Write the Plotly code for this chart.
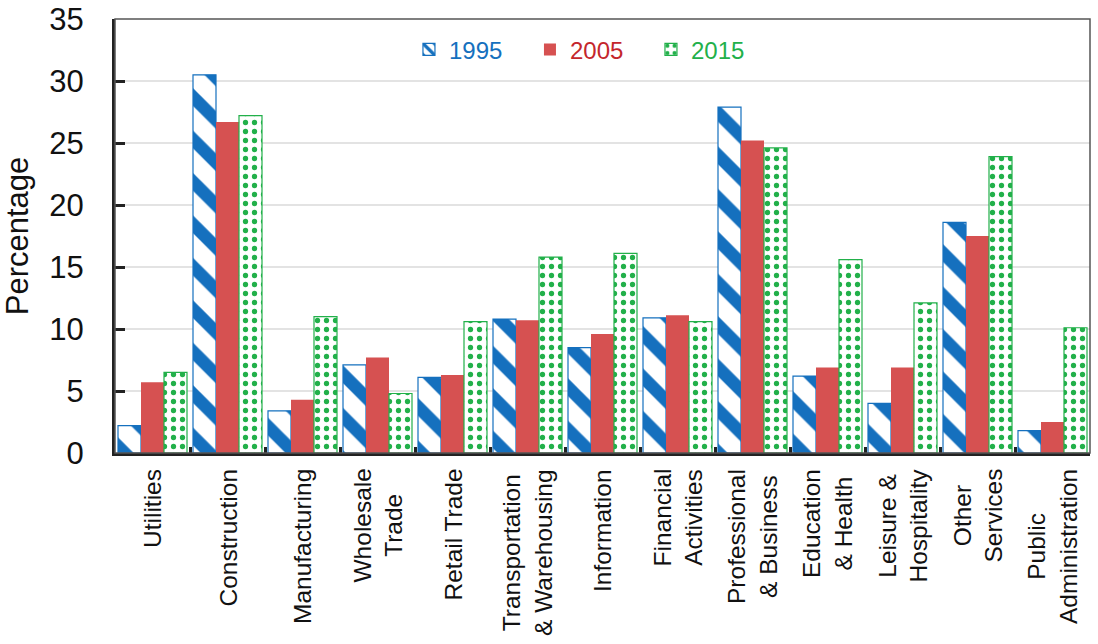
import plotly.graph_objects as go

categories = ["Utilities", "Construction", "Manufacturing", "Wholesale<br>Trade", "Retail Trade",
              "Transportation<br>& Warehousing", "Information", "Financial<br>Activities",
              "Professional<br>& Business", "Education<br>& Health", "Leisure &<br>Hospitality",
              "Other<br>Services", "Public<br>Administration"]
v1995 = [2.2, 30.5, 3.4, 7.1, 6.1, 10.8, 8.5, 10.9, 27.9, 6.2, 4.0, 18.6, 1.8]
v2005 = [5.7, 26.7, 4.3, 7.7, 6.3, 10.7, 9.6, 11.1, 25.2, 6.9, 6.9, 17.5, 2.5]
v2015 = [6.5, 27.2, 11.0, 4.8, 10.6, 15.8, 16.1, 10.6, 24.6, 15.6, 12.1, 23.9, 10.1]
years = ["1995", "2005", "2015"]

BLUE = "#1570be"
RED = "#d65151"
GREEN = "#22b04a"
FONT = "Liberation Sans, Arial, sans-serif"

fig = go.Figure()
fig.add_trace(go.Bar(
    x=categories, y=v1995,
    name=f'<span style="color:{BLUE}">{years[0]}</span>',
    marker=dict(color="white", line=dict(color=BLUE, width=1.2),
                pattern=dict(shape="\\", fgcolor=BLUE, bgcolor="white", size=30,
                             solidity=0.42, fgopacity=1)),
))
fig.add_trace(go.Bar(
    x=categories, y=v2005,
    name=f'<span style="color:#c4262c">{years[1]}</span>',
    marker=dict(color=RED, line=dict(color=RED, width=0)),
))
fig.add_trace(go.Bar(
    x=categories, y=v2015,
    name=f'<span style="color:{GREEN}">{years[2]}</span>',
    marker=dict(color="white", line=dict(color=GREEN, width=1.2),
                pattern=dict(shape=".", fgcolor=GREEN, bgcolor="white", size=9,
                             solidity=0.27, fgopacity=1)),
))

# category labels, centred multi-line, rotated
for c in categories:
    fig.add_annotation(x=c, xref="x", y=0, yref="paper", yanchor="top", yshift=-14,
                       xanchor="center", text=c, textangle=-90, align="center",
                       showarrow=False, font=dict(size=24.5, color="#111", family=FONT))

fig.update_layout(
    width=1098, height=644,
    margin=dict(l=115, r=8, t=19, b=191),
    barmode="group", bargap=0.08, bargroupgap=0,
    plot_bgcolor="white", paper_bgcolor="white",
    font=dict(family=FONT, color="#111"),
    showlegend=True,
    legend=dict(orientation="h", x=0.3015, xanchor="left", y=0.929, yanchor="middle",
                font=dict(size=24), bgcolor="rgba(0,0,0,0)", itemwidth=30,
                entrywidth=76, entrywidthmode="pixels"),
    xaxis=dict(
        showticklabels=False, automargin=False,
        showline=True, linecolor="#222", linewidth=3, mirror=False,
        ticks="inside", tickson="boundaries", ticklen=6, tickwidth=3, tickcolor="#222",
        showgrid=False,
    ),
    yaxis=dict(
        range=[0, 35], dtick=5, tickfont=dict(size=31, color="#111"), automargin=False,
        ticklabelstandoff=22,
        title=dict(text="Percentage", font=dict(size=31, color="#111"), standoff=22),
        showline=True, linecolor="#222", linewidth=3,
        ticks="inside", ticklen=10, tickwidth=3, tickcolor="#222",
        showgrid=True, gridcolor="#e3e3e3", gridwidth=2, zeroline=False,
    ),
)
# thin frame on top/right
fig.add_shape(type="rect", xref="paper", yref="paper", x0=0, y0=0, x1=1, y1=1,
              line=dict(color="#555", width=1.5), layer="above")

fig.write_html("out.html", config={"displayModeBar": False},
               post_script="document.body.style.margin='0';document.body.style.overflow='hidden';")
